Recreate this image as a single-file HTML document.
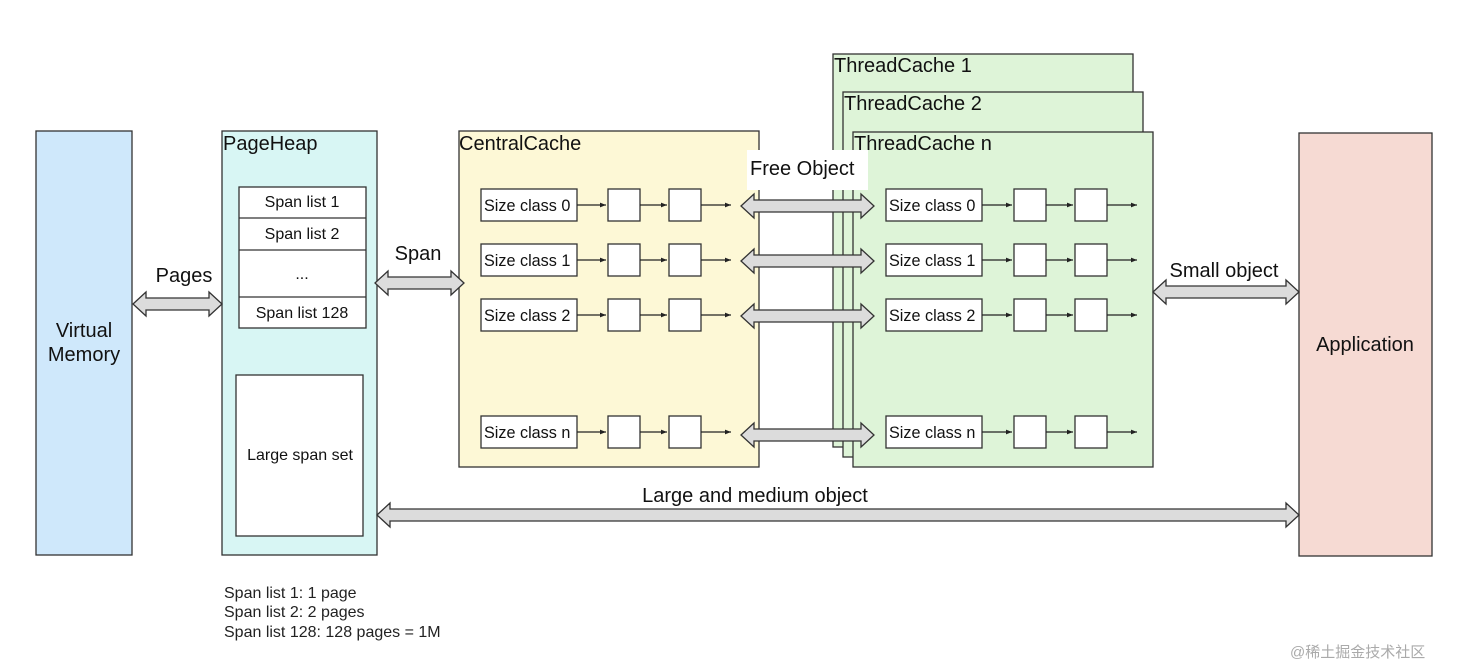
<!DOCTYPE html>
<html><head><meta charset="utf-8"><style>
body{margin:0;background:#fff;}
svg{display:block;font-family:"Liberation Sans","Noto Sans CJK SC",sans-serif;}
</style></head><body>
<svg width="1470" height="670" viewBox="0 0 1470 670" xmlns="http://www.w3.org/2000/svg">
<defs>
<marker id="m" markerWidth="6" markerHeight="6" refX="5" refY="3" orient="auto"><path d="M0,1 L5,3 L0,5 z" fill="#222"/></marker>
</defs>
<g stroke="#333" stroke-width="1.3">
<rect x="36" y="131" width="96" height="424" fill="#cfe8fb"/>
<rect x="222" y="131" width="155" height="424" fill="#d8f6f4"/>
<rect x="459" y="131" width="300" height="336" fill="#fdf8d6"/>
<rect x="833" y="54" width="300" height="393" fill="#def4d8"/>
<rect x="843" y="92" width="300" height="365" fill="#def4d8"/>
<rect x="853" y="132" width="300" height="335" fill="#def4d8"/>
<rect x="1299" y="133" width="133" height="423" fill="#f6dad3"/>
</g>
<rect x="747" y="150" width="121" height="40" fill="#fff"/>
<g font-size="20" fill="#111">
<text x="84" y="337" text-anchor="middle">Virtual</text>
<text x="84" y="361" text-anchor="middle">Memory</text>
<text x="1365" y="351" text-anchor="middle">Application</text>
<text x="223" y="150">PageHeap</text>
<text x="459" y="150">CentralCache</text>
<text x="834" y="72">ThreadCache 1</text>
<text x="844" y="110">ThreadCache 2</text>
<text x="854" y="150">ThreadCache n</text>
<text x="750" y="175">Free Object</text>
<text x="184" y="282" text-anchor="middle">Pages</text>
<text x="418" y="260" text-anchor="middle">Span</text>
<text x="1224" y="277" text-anchor="middle">Small object</text>
<text x="755" y="502" text-anchor="middle">Large and medium object</text>
</g>
<g stroke="#333" stroke-width="1.3" fill="#fff">
<rect x="239" y="187" width="127" height="141"/>
<line x1="239" y1="218" x2="366" y2="218"/>
<line x1="239" y1="250" x2="366" y2="250"/>
<line x1="239" y1="297" x2="366" y2="297"/>
<rect x="236" y="375" width="127" height="161"/>
</g>
<g font-size="16" fill="#111" text-anchor="middle">
<text x="302" y="207">Span list 1</text>
<text x="302" y="239">Span list 2</text>
<text x="302" y="279">...</text>
<text x="302" y="318">Span list 128</text>
<text x="300" y="460">Large span set</text>
</g>
<g font-size="16" fill="#222">
<text x="224" y="598">Span list 1: 1 page</text>
<text x="224" y="617">Span list 2: 2 pages</text>
<text x="224" y="637">Span list 128: 128 pages = 1M</text>
</g>
<text x="1290" y="657" font-size="15" fill="#aaa">@稀土掘金技术社区</text>

<g stroke="#333" stroke-width="1.3">
<g fill="#fff">
<rect x="481" y="189" width="96" height="32"/><rect x="608" y="189" width="32" height="32"/><rect x="669" y="189" width="32" height="32"/>
<rect x="481" y="244" width="96" height="32"/><rect x="608" y="244" width="32" height="32"/><rect x="669" y="244" width="32" height="32"/>
<rect x="481" y="299" width="96" height="32"/><rect x="608" y="299" width="32" height="32"/><rect x="669" y="299" width="32" height="32"/>
<rect x="481" y="416" width="96" height="32"/><rect x="608" y="416" width="32" height="32"/><rect x="669" y="416" width="32" height="32"/>
<rect x="886" y="189" width="96" height="32"/><rect x="1014" y="189" width="32" height="32"/><rect x="1075" y="189" width="32" height="32"/>
<rect x="886" y="244" width="96" height="32"/><rect x="1014" y="244" width="32" height="32"/><rect x="1075" y="244" width="32" height="32"/>
<rect x="886" y="299" width="96" height="32"/><rect x="1014" y="299" width="32" height="32"/><rect x="1075" y="299" width="32" height="32"/>
<rect x="886" y="416" width="96" height="32"/><rect x="1014" y="416" width="32" height="32"/><rect x="1075" y="416" width="32" height="32"/>
</g>
<g stroke="#222" stroke-width="1.2" marker-end="url(#m)">
<line x1="577" y1="205" x2="606" y2="205"/><line x1="640" y1="205" x2="667" y2="205"/><line x1="701" y1="205" x2="731" y2="205"/>
<line x1="577" y1="260" x2="606" y2="260"/><line x1="640" y1="260" x2="667" y2="260"/><line x1="701" y1="260" x2="731" y2="260"/>
<line x1="577" y1="315" x2="606" y2="315"/><line x1="640" y1="315" x2="667" y2="315"/><line x1="701" y1="315" x2="731" y2="315"/>
<line x1="577" y1="432" x2="606" y2="432"/><line x1="640" y1="432" x2="667" y2="432"/><line x1="701" y1="432" x2="731" y2="432"/>
<line x1="982" y1="205" x2="1012" y2="205"/><line x1="1046" y1="205" x2="1073" y2="205"/><line x1="1107" y1="205" x2="1137" y2="205"/>
<line x1="982" y1="260" x2="1012" y2="260"/><line x1="1046" y1="260" x2="1073" y2="260"/><line x1="1107" y1="260" x2="1137" y2="260"/>
<line x1="982" y1="315" x2="1012" y2="315"/><line x1="1046" y1="315" x2="1073" y2="315"/><line x1="1107" y1="315" x2="1137" y2="315"/>
<line x1="982" y1="432" x2="1012" y2="432"/><line x1="1046" y1="432" x2="1073" y2="432"/><line x1="1107" y1="432" x2="1137" y2="432"/>
</g>
</g>
<g font-size="16.2" fill="#111">
<text x="484" y="211">Size class 0</text><text x="484" y="266">Size class 1</text><text x="484" y="321">Size class 2</text><text x="484" y="438">Size class n</text>
<text x="889" y="211">Size class 0</text><text x="889" y="266">Size class 1</text><text x="889" y="321">Size class 2</text><text x="889" y="438">Size class n</text>
</g>
<g fill="#dcdcdc" stroke="#333" stroke-width="1.3">
<polygon points="133,304 146,292 146,298 209,298 209,292 222,304 209,316 209,310 146,310 146,316"/>
<polygon points="375,283 388,271 388,277 451,277 451,271 464,283 451,295 451,289 388,289 388,295"/>
<polygon points="741,206 754,194 754,200 861,200 861,194 874,206 861,218 861,212 754,212 754,218"/>
<polygon points="741,261 754,249 754,255 861,255 861,249 874,261 861,273 861,267 754,267 754,273"/>
<polygon points="741,316 754,304 754,310 861,310 861,304 874,316 861,328 861,322 754,322 754,328"/>
<polygon points="741,435 754,423 754,429 861,429 861,423 874,435 861,447 861,441 754,441 754,447"/>
<polygon points="1153,292 1166,280 1166,286 1286,286 1286,280 1299,292 1286,304 1286,298 1166,298 1166,304"/>
<polygon points="377,515 390,503 390,509 1286,509 1286,503 1299,515 1286,527 1286,521 390,521 390,527"/>
</g>
</svg>
</body></html>
